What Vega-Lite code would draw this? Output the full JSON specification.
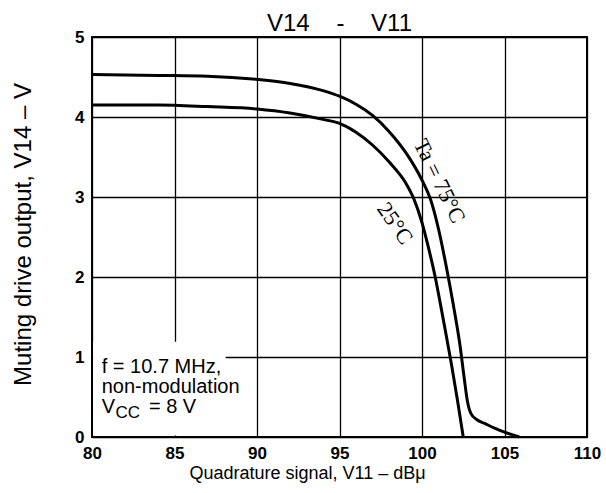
{
  "$schema": "https://vega.github.io/schema/vega-lite/v6.json",
  "width": 495,
  "height": 400,
  "autosize": {"type": "none"},
  "padding": {"left": 92, "top": 37, "right": 19, "bottom": 56},
  "background": "white",
  "config": {
    "view": {"stroke": "black", "strokeWidth": 2},
    "axis": {
      "grid": true,
      "gridColor": "black",
      "gridWidth": 1.3,
      "gridOpacity": 1,
      "ticks": false,
      "domain": false,
      "labelFont": "Liberation Sans",
      "labelFontWeight": "bold",
      "labelFontSize": 17,
      "labelColor": "black",
      "titleFont": "Liberation Sans",
      "titleFontWeight": "normal",
      "titleFontSize": 18,
      "titleColor": "black"
    }
  },
  "datasets": {
    "curves": [
      {"x": 80, "v": 4.53, "temp": "75°C"},
      {"x": 84, "v": 4.52, "temp": "75°C"},
      {"x": 87, "v": 4.51, "temp": "75°C"},
      {"x": 90, "v": 4.47, "temp": "75°C"},
      {"x": 92, "v": 4.42, "temp": "75°C"},
      {"x": 94, "v": 4.33, "temp": "75°C"},
      {"x": 95, "v": 4.26, "temp": "75°C"},
      {"x": 96, "v": 4.16, "temp": "75°C"},
      {"x": 97, "v": 4.02, "temp": "75°C"},
      {"x": 98, "v": 3.82, "temp": "75°C"},
      {"x": 99, "v": 3.56, "temp": "75°C"},
      {"x": 100, "v": 3.21, "temp": "75°C"},
      {"x": 100.5, "v": 2.98, "temp": "75°C"},
      {"x": 101, "v": 2.6, "temp": "75°C"},
      {"x": 101.5, "v": 2.1, "temp": "75°C"},
      {"x": 101.9, "v": 1.65, "temp": "75°C"},
      {"x": 102.3, "v": 1.15, "temp": "75°C"},
      {"x": 102.55, "v": 0.75, "temp": "75°C"},
      {"x": 102.75, "v": 0.45, "temp": "75°C"},
      {"x": 102.95, "v": 0.3, "temp": "75°C"},
      {"x": 103.3, "v": 0.22, "temp": "75°C"},
      {"x": 103.8, "v": 0.17, "temp": "75°C"},
      {"x": 104.4, "v": 0.11, "temp": "75°C"},
      {"x": 105, "v": 0.06, "temp": "75°C"},
      {"x": 105.9, "v": 0.0, "temp": "75°C"},
      {"x": 80, "v": 4.15, "temp": "25°C"},
      {"x": 84, "v": 4.15, "temp": "25°C"},
      {"x": 87, "v": 4.13, "temp": "25°C"},
      {"x": 90, "v": 4.1, "temp": "25°C"},
      {"x": 92, "v": 4.05, "temp": "25°C"},
      {"x": 94, "v": 3.97, "temp": "25°C"},
      {"x": 95, "v": 3.92, "temp": "25°C"},
      {"x": 96, "v": 3.81, "temp": "25°C"},
      {"x": 97, "v": 3.65, "temp": "25°C"},
      {"x": 98, "v": 3.44, "temp": "25°C"},
      {"x": 99, "v": 3.18, "temp": "25°C"},
      {"x": 99.5, "v": 2.98, "temp": "25°C"},
      {"x": 100, "v": 2.68, "temp": "25°C"},
      {"x": 100.4, "v": 2.36, "temp": "25°C"},
      {"x": 100.8, "v": 2.0, "temp": "25°C"},
      {"x": 101.1, "v": 1.68, "temp": "25°C"},
      {"x": 101.45, "v": 1.29, "temp": "25°C"},
      {"x": 101.8, "v": 0.89, "temp": "25°C"},
      {"x": 102.15, "v": 0.46, "temp": "25°C"},
      {"x": 102.5, "v": 0.0, "temp": "25°C"}
    ],
    "note": [
      {"x": 80.59, "v": 0.796, "text": "f = 10.7 MHz,"},
      {"x": 80.59, "v": 0.546, "text": "non-modulation"},
      {"x": 80.59, "v": 0.296, "text": "V"},
      {"x": 83.45, "v": 0.296, "text": "= 8 V"}
    ],
    "sub": [
      {"x": 81.42, "v": 0.2375, "text": "CC"}
    ],
    "lab75": [
      {"x": 101.05, "v": 3.2, "text": "Ta = 75°C"}
    ],
    "lab25": [
      {"x": 98.36, "v": 2.67, "text": "25°C"}
    ],
    "heading": [
      {"x": 95, "v": 5, "text": "V14\u00a0\u00a0\u00a0\u00a0-\u00a0\u00a0\u00a0\u00a0V11"}
    ]
  },
  "layer": [
    {
      "data": {"name": "curves"},
      "mark": {"type": "line", "strokeWidth": 3, "interpolate": "monotone"},
      "encoding": {
        "x": {
          "field": "x",
          "type": "quantitative",
          "scale": {"domain": [80, 110], "nice": false, "zero": false},
          "axis": {
            "values": [80, 85, 90, 95, 100, 105, 110],
            "format": "d",
            "labelFlush": false,
            "labelPadding": 8,
            "labelBaseline": "top",
            "title": "Quadrature signal, V11 – dBμ",
            "titleX": 215,
            "titleY": 41,
            "titleBaseline": "alphabetic",
            "titleAnchor": null
          }
        },
        "y": {
          "field": "v",
          "type": "quantitative",
          "scale": {"domain": [0, 5], "nice": false},
          "axis": {
            "values": [0, 1, 2, 3, 4, 5],
            "format": "d",
            "labelPadding": 8,
            "labelBaseline": "middle",
            "title": "Muting drive output, V14 – V",
            "titleFontSize": 24,
            "titleX": -69,
            "titleY": 197,
            "titleAngle": -90,
            "titleBaseline": "middle",
            "titleAlign": "center"
          }
        },
        "detail": {"field": "temp", "type": "nominal"},
        "color": {"value": "black"}
      }
    },
    {
      "data": {"values": [{}]},
      "mark": {"type": "rect", "color": "white"},
      "encoding": {
        "x": {"datum": 80.07, "type": "quantitative"},
        "x2": {"datum": 88.1},
        "y": {"datum": 0.02, "type": "quantitative"},
        "y2": {"datum": 1.19}
      }
    },
    {
      "data": {"name": "note"},
      "mark": {"type": "text", "font": "Liberation Sans", "fontSize": 20, "align": "left", "baseline": "alphabetic", "color": "black"},
      "encoding": {
        "x": {"field": "x", "type": "quantitative"},
        "y": {"field": "v", "type": "quantitative"},
        "text": {"field": "text"}
      }
    },
    {
      "data": {"name": "sub"},
      "mark": {"type": "text", "font": "Liberation Sans", "fontSize": 17, "align": "left", "baseline": "alphabetic", "color": "black"},
      "encoding": {
        "x": {"field": "x", "type": "quantitative"},
        "y": {"field": "v", "type": "quantitative"},
        "text": {"field": "text"}
      }
    },
    {
      "data": {"name": "lab75"},
      "mark": {"type": "text", "font": "Liberation Serif", "fontSize": 22, "align": "center", "baseline": "middle", "angle": 64, "color": "black"},
      "encoding": {
        "x": {"field": "x", "type": "quantitative"},
        "y": {"field": "v", "type": "quantitative"},
        "text": {"field": "text"}
      }
    },
    {
      "data": {"name": "lab25"},
      "mark": {"type": "text", "font": "Liberation Serif", "fontSize": 22, "align": "center", "baseline": "middle", "angle": 55, "color": "black"},
      "encoding": {
        "x": {"field": "x", "type": "quantitative"},
        "y": {"field": "v", "type": "quantitative"},
        "text": {"field": "text"}
      }
    },
    {
      "data": {"name": "heading"},
      "mark": {"type": "text", "font": "Liberation Sans", "fontSize": 24, "align": "center", "baseline": "alphabetic", "dy": -6, "color": "black"},
      "encoding": {
        "x": {"field": "x", "type": "quantitative"},
        "y": {"field": "v", "type": "quantitative"},
        "text": {"field": "text"}
      }
    }
  ]
}
